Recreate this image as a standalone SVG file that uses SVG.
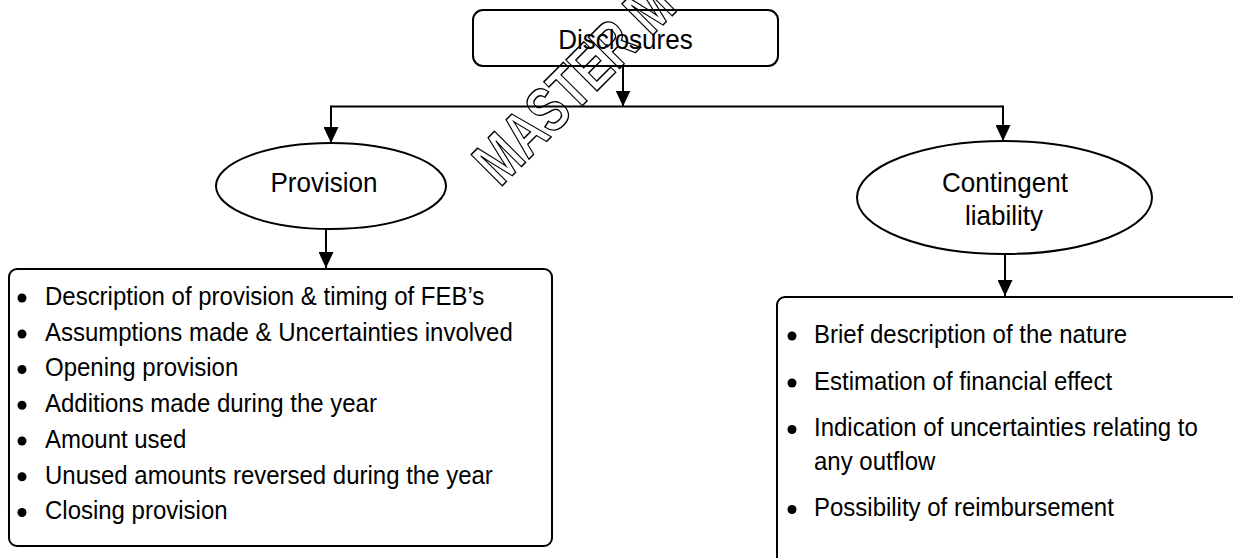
<svg xmlns="http://www.w3.org/2000/svg" width="1233" height="558" viewBox="0 0 1233 558">
<style>
.shape{fill:#fff;stroke:#000;stroke-width:2}
.conn{fill:none;stroke:#000;stroke-width:2}
.head{font-family:"Liberation Sans",Arial,sans-serif;font-size:28px;fill:#000;text-anchor:middle}
.body{font-family:"Liberation Sans",Arial,sans-serif;font-size:26.5px;fill:#000}
.bul{fill:#000}
.wm{font-family:"Liberation Sans",Arial,sans-serif;font-weight:bold;font-size:64px;fill:none;stroke:#000;stroke-width:1.5}
</style>
<defs>
<marker id="arr" viewBox="0 0 16 15" refX="16" refY="7.5" markerWidth="16" markerHeight="15" markerUnits="userSpaceOnUse" orient="auto">
<path d="M0,0 L16,7.5 L0,15 Z" fill="#000"/>
</marker>
</defs>
<rect width="1233" height="558" fill="#fff"/>
<g id="connectors">
<line class="conn" x1="623" y1="66" x2="623" y2="106.5" marker-end="url(#arr)"/>
<polyline class="conn" points="331,106.5 1003,106.5"/>
<line class="conn" x1="331" y1="105.5" x2="331" y2="143" marker-end="url(#arr)"/>
<line class="conn" x1="1003" y1="105.5" x2="1003" y2="141" marker-end="url(#arr)"/>
<line class="conn" x1="326" y1="229" x2="326" y2="268" marker-end="url(#arr)"/>
<line class="conn" x1="1005" y1="254" x2="1005" y2="296" marker-end="url(#arr)"/>
</g>
<g id="disclosures">
<rect class="shape" x="473" y="10" width="305" height="56" rx="10"/>
<text class="head" transform="translate(625.5 49) scale(0.93 1)">Disclosures</text>
</g>
<g id="provision">
<ellipse class="shape" cx="331" cy="186" rx="115" ry="43"/>
<text class="head" transform="translate(324 192) scale(0.93 1)">Provision</text>
</g>
<g id="contingent">
<ellipse class="shape" cx="1004.5" cy="197.5" rx="147.5" ry="56.5"/>
<text class="head" transform="translate(1005 191.5) scale(0.93 1)">Contingent</text>
<text class="head" transform="translate(1004 225) scale(0.93 1)">liability</text>
</g>
<g id="provision-list">
<rect class="shape" x="9" y="269" width="543" height="277" rx="8"/>
<circle class="bul" cx="22" cy="298" r="4.5"/>
<circle class="bul" cx="22" cy="334" r="4.5"/>
<circle class="bul" cx="22" cy="369.5" r="4.5"/>
<circle class="bul" cx="22" cy="405.3" r="4.5"/>
<circle class="bul" cx="22" cy="441" r="4.5"/>
<circle class="bul" cx="22" cy="476.8" r="4.5"/>
<circle class="bul" cx="22" cy="512.5" r="4.5"/>
<g transform="translate(45 0) scale(0.905 1)">
<text class="body" x="0" y="305">Description of provision &amp; timing of FEB’s</text>
<text class="body" x="0" y="340.8">Assumptions made &amp; Uncertainties involved</text>
<text class="body" x="0" y="376.5">Opening provision</text>
<text class="body" x="0" y="412.3">Additions made during the year</text>
<text class="body" x="0" y="448">Amount used</text>
<text class="body" x="0" y="483.8">Unused amounts reversed during the year</text>
<text class="body" x="0" y="519.5">Closing provision</text>
</g>
</g>
<g id="contingent-list">
<rect class="shape" x="777" y="297" width="470" height="300" rx="8"/>
<circle class="bul" cx="792" cy="336" r="4.5"/>
<circle class="bul" cx="792" cy="383" r="4.5"/>
<circle class="bul" cx="792" cy="429.5" r="4.5"/>
<circle class="bul" cx="792" cy="509.5" r="4.5"/>
<g transform="translate(814 0) scale(0.905 1)">
<text class="body" x="0" y="343">Brief description of the nature</text>
<text class="body" x="0" y="390">Estimation of financial effect</text>
<text class="body" x="0" y="436.5">Indication of uncertainties relating to</text>
<text class="body" x="0" y="470.5">any outflow</text>
<text class="body" x="0" y="516.5">Possibility of reimbursement</text>
</g>
</g>
<g id="watermark">
<text class="wm" transform="translate(500 188) rotate(-45) scale(0.74 1)">MASTER M</text>
</g>
</svg>
